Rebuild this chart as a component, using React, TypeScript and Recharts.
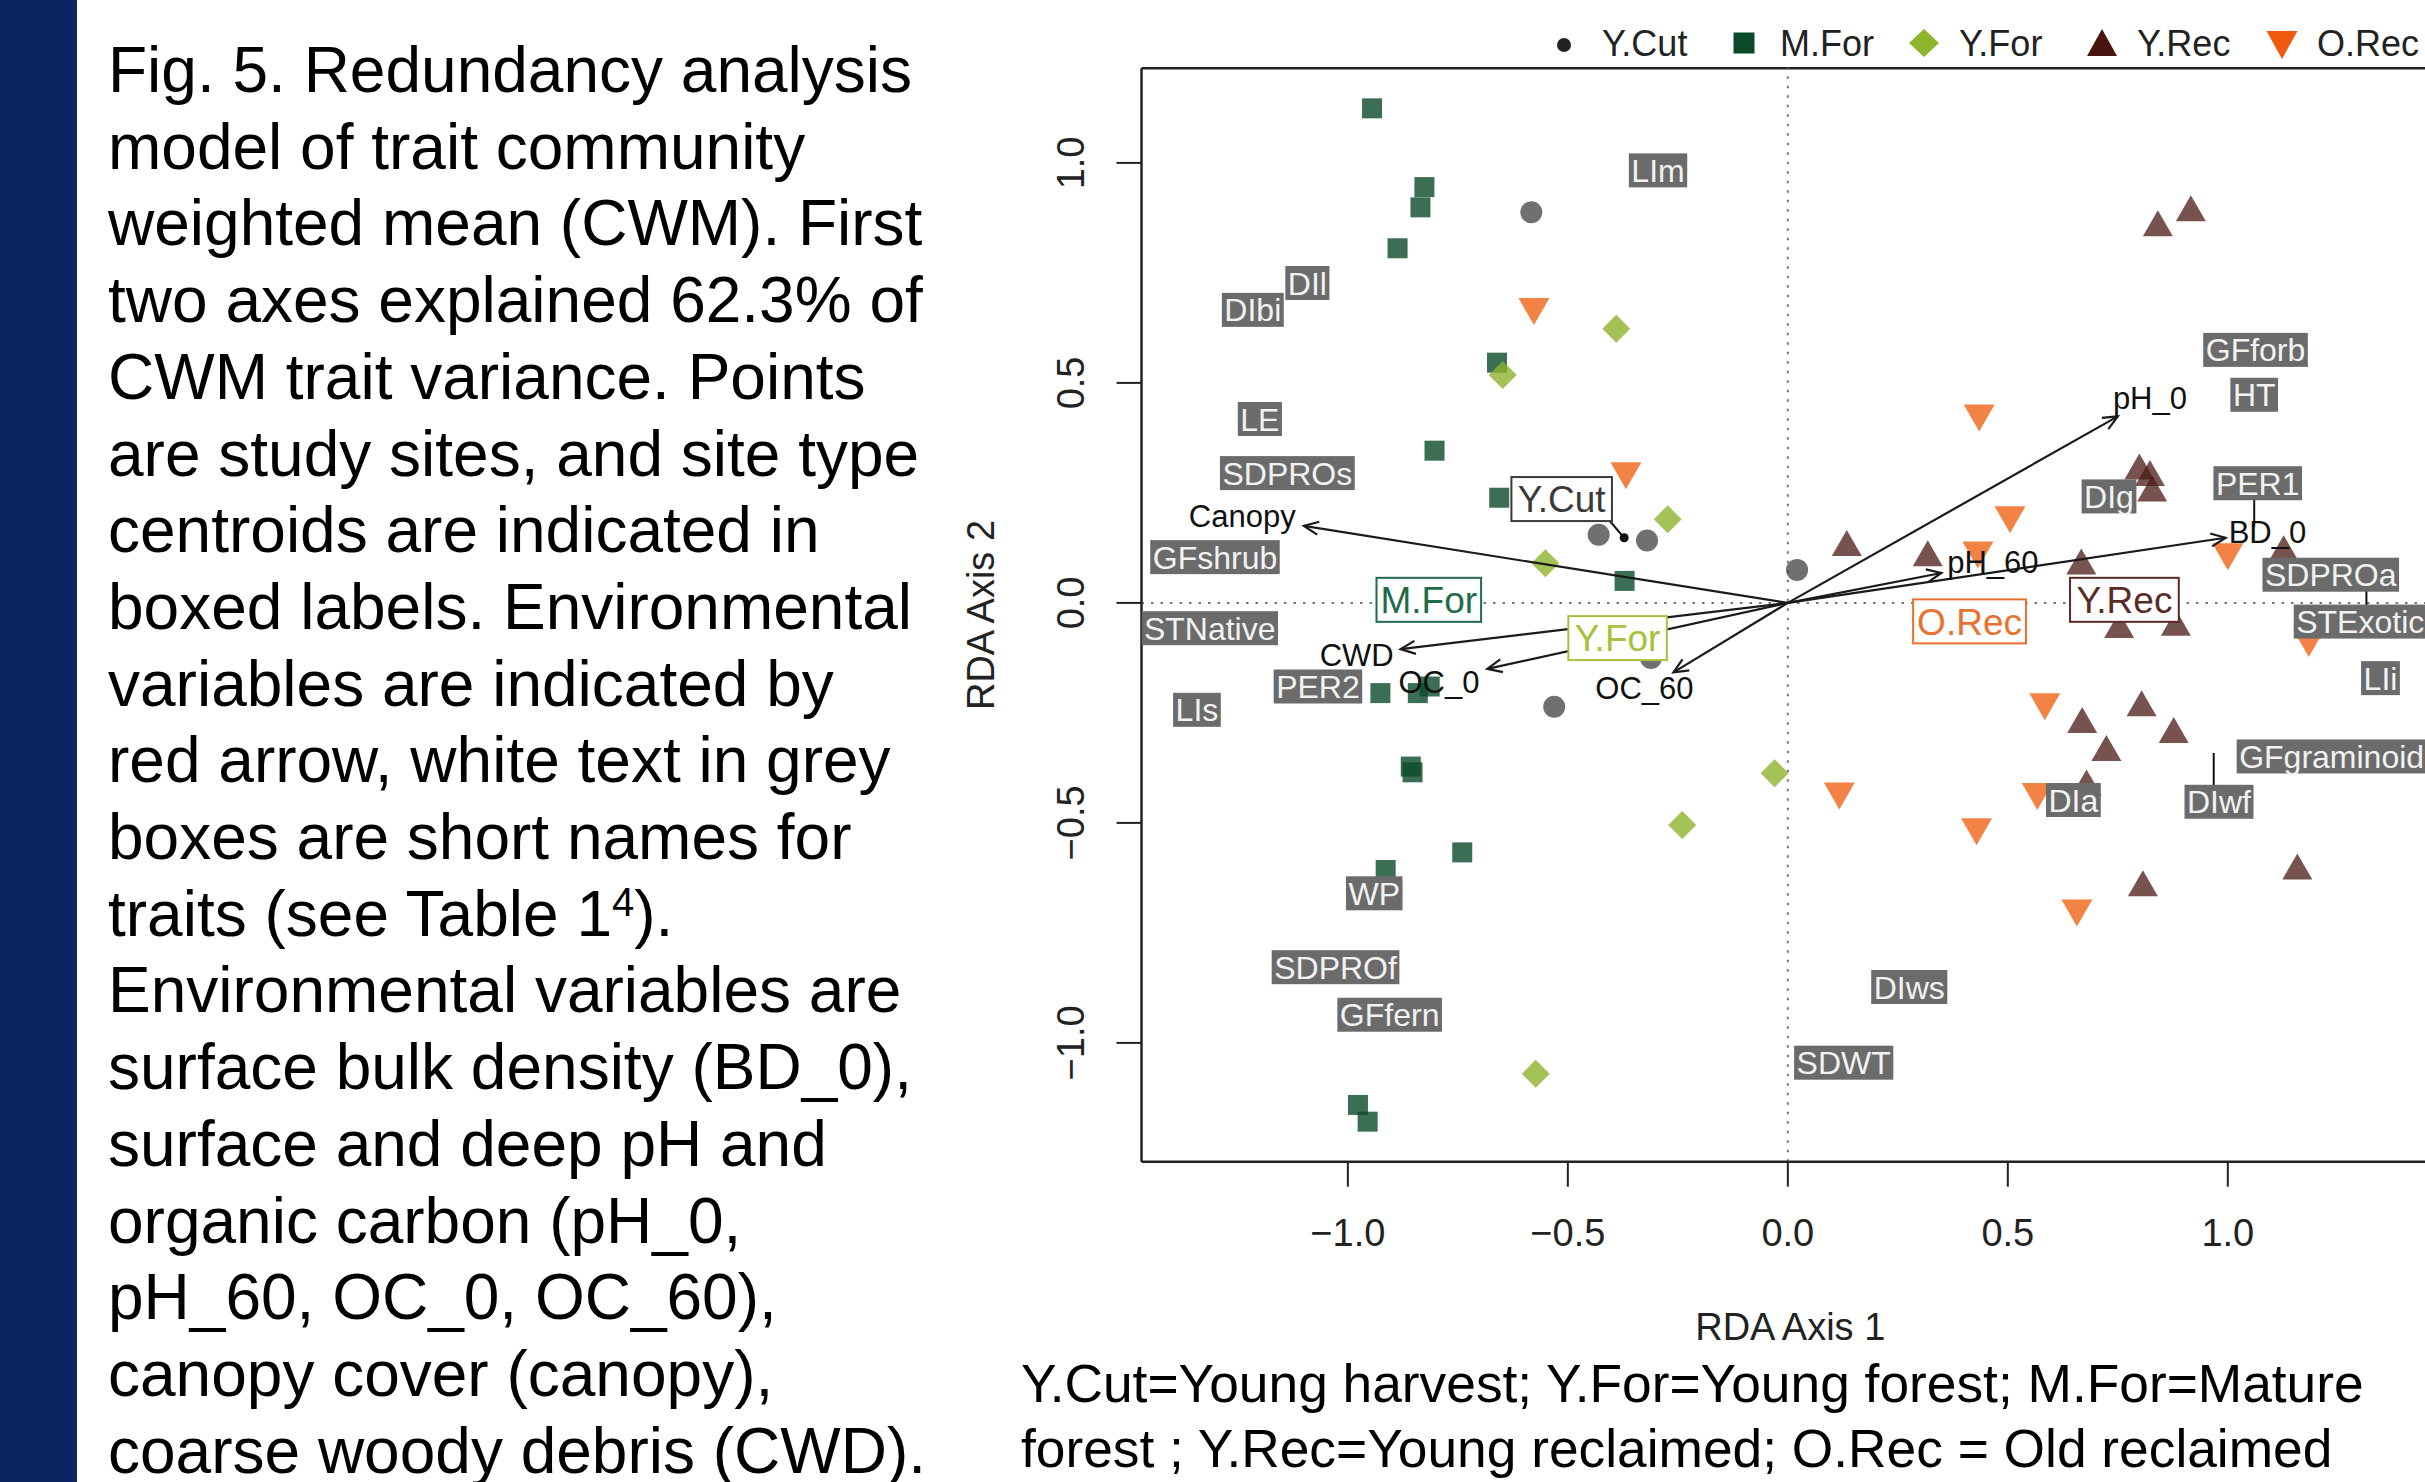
import React from 'react';
import { ScatterChart, Scatter, XAxis, YAxis, ReferenceLine, Legend } from 'recharts';

const FONT = '"Liberation Sans", Arial, Helvetica, sans-serif';

// ---------- caption text ----------
const captionLines = [
  'Fig. 5. Redundancy analysis',
  'model of trait community',
  'weighted mean (CWM). First',
  'two axes explained 62.3% of',
  'CWM trait variance. Points',
  'are study sites, and site type',
  'centroids are indicated in',
  'boxed labels. Environmental',
  'variables are indicated by',
  'red arrow, white text in grey',
  'boxes are short names for',
  'traits (see Table 1^4).',
  'Environmental variables are',
  'surface bulk density (BD_0),',
  'surface and deep pH and',
  'organic carbon (pH_0,',
  'pH_60, OC_0, OC_60),',
  'canopy cover (canopy),',
  'coarse woody debris (CWD).',
];
const footnoteLines = [
  'Y.Cut=Young harvest; Y.For=Young forest; M.For=Mature',
  'forest ; Y.Rec=Young reclaimed; O.Rec = Old reclaimed',
];

// ---------- axes ----------
const xDomain = [-1.469, 1.48];
const yDomain = [-1.27, 1.215];
const axisTicks = [-1, -0.5, 0, 0.5, 1];
const xTitle = 'RDA Axis 1';
const yTitle = 'RDA Axis 2';

// ---------- site scores ----------
const yCutSites = [
  { x: -0.583, y: 0.888 }, { x: -0.43, y: 0.155 }, { x: -0.32, y: 0.142 },
  { x: -0.531, y: -0.236 }, { x: -0.311, y: -0.125 }, { x: 0.021, y: 0.075 },
];
const mForSites = [
  { x: -0.945, y: 1.124 }, { x: -0.826, y: 0.945 }, { x: -0.835, y: 0.899 },
  { x: -0.887, y: 0.806 }, { x: -0.661, y: 0.546 }, { x: -0.803, y: 0.346 },
  { x: -0.656, y: 0.239 }, { x: -0.371, y: 0.05 }, { x: -0.926, y: -0.205 },
  { x: -0.841, y: -0.205 }, { x: -0.814, y: -0.19 }, { x: -0.857, y: -0.372 },
  { x: -0.853, y: -0.385 }, { x: -0.74, y: -0.567 }, { x: -0.914, y: -0.607 },
  { x: -0.977, y: -1.141 }, { x: -0.955, y: -1.179 },
];
const yForSites = [
  { x: -0.39, y: 0.623 }, { x: -0.648, y: 0.518 }, { x: -0.273, y: 0.19 },
  { x: -0.551, y: 0.09 }, { x: -0.03, y: -0.387 }, { x: -0.24, y: -0.505 },
  { x: -0.573, y: -1.07 },
];
const yRecSites = [
  { x: 0.841, y: 0.863 }, { x: 0.916, y: 0.897 }, { x: 0.799, y: 0.31 },
  { x: 0.823, y: 0.295 }, { x: 0.828, y: 0.26 }, { x: 0.134, y: 0.136 },
  { x: 0.318, y: 0.113 }, { x: 0.667, y: 0.094 }, { x: 1.127, y: 0.124 },
  { x: 0.753, y: -0.05 }, { x: 0.882, y: -0.045 }, { x: 0.804, y: -0.228 },
  { x: 0.669, y: -0.266 }, { x: 0.877, y: -0.289 }, { x: 0.724, y: -0.33 },
  { x: 0.679, y: -0.408 }, { x: 1.158, y: -0.599 }, { x: 0.807, y: -0.637 },
];
const oRecSites = [
  { x: -0.577, y: 0.662 }, { x: -0.368, y: 0.289 }, { x: 0.435, y: 0.42 },
  { x: 0.505, y: 0.189 }, { x: 0.432, y: 0.109 }, { x: 1.0, y: 0.105 },
  { x: 1.184, y: -0.092 }, { x: 0.584, y: -0.236 }, { x: 0.117, y: -0.439 },
  { x: 0.567, y: -0.44 }, { x: 0.429, y: -0.52 }, { x: 0.657, y: -0.705 },
];

// ---------- environmental vectors (tip and label position) ----------
const envVectors = [
  { name: 'Canopy', x: -1.1, y: 0.175, lx: -1.24, ly: 0.198 },
  { name: 'CWD', x: -0.88, y: -0.105, lx: -0.98, ly: -0.118 },
  { name: 'OC_0', x: -0.683, y: -0.15, lx: -0.793, ly: -0.18 },
  { name: 'OC_60', x: -0.26, y: -0.158, lx: -0.326, ly: -0.193 },
  { name: 'pH_0', x: 0.75, y: 0.424, lx: 0.823, ly: 0.466 },
  { name: 'pH_60', x: 0.349, y: 0.068, lx: 0.466, ly: 0.094 },
  { name: 'BD_0', x: 0.995, y: 0.148, lx: 1.09, ly: 0.162 },
];

// ---------- trait labels ----------
const traitLabels = [
  { name: 'LIm', x: -0.295, y: 0.983 },
  { name: 'DIl', x: -1.092, y: 0.727 },
  { name: 'DIbi', x: -1.216, y: 0.666 },
  { name: 'LE', x: -1.2, y: 0.418 },
  { name: 'SDPROs', x: -1.1375, y: 0.295 },
  { name: 'GFshrub', x: -1.302, y: 0.104 },
  { name: 'STNative', x: -1.314, y: -0.0575 },
  { name: 'PER2', x: -1.068, y: -0.19 },
  { name: 'LIs', x: -1.343, y: -0.243 },
  { name: 'WP', x: -0.94, y: -0.66 },
  { name: 'SDPROf', x: -1.028, y: -0.828 },
  { name: 'GFfern', x: -0.905, y: -0.936 },
  { name: 'DIws', x: 0.276, y: -0.873 },
  { name: 'SDWT', x: 0.127, y: -1.045 },
  { name: 'GFforb', x: 1.063, y: 0.575 },
  { name: 'HT', x: 1.06, y: 0.473 },
  { name: 'DIg', x: 0.73, y: 0.242 },
  { name: 'PER1', x: 1.068, y: 0.272 },
  { name: 'SDPROa', x: 1.234, y: 0.064 },
  { name: 'STExotic', x: 1.301, y: -0.0425 },
  { name: 'LIi', x: 1.347, y: -0.171 },
  { name: 'GFgraminoid', x: 1.236, y: -0.349 },
  { name: 'DIa', x: 0.649, y: -0.448 },
  { name: 'DIwf', x: 0.98, y: -0.452 },
];
const leaderLines = [
  { x1: -0.407, y1: 0.189, x2: -0.372, y2: 0.148 },
  { x1: 1.06, y1: 0.234, x2: 1.06, y2: 0.173 },
  { x1: 1.315, y1: 0.045, x2: 1.315, y2: -0.016 },
  { x1: 0.968, y1: -0.341, x2: 0.968, y2: -0.414 },
];
const yCutCentroid = [{ x: -0.372, y: 0.148 }];

// ---------- site-type centroid labels ----------
const centroidLabels = [
  { name: 'Y.Cut', x: -0.514, y: 0.236, group: 'ycut' },
  { name: 'M.For', x: -0.816, y: 0.007, group: 'mfor' },
  { name: 'Y.For', x: -0.387, y: -0.08, group: 'yfor' },
  { name: 'O.Rec', x: 0.413, y: -0.042, group: 'orec' },
  { name: 'Y.Rec', x: 0.765, y: 0.007, group: 'yrec' },
];
const legendNames = ['Y.Cut', 'M.For', 'Y.For', 'Y.Rec', 'O.Rec'];

// ---------- styles ----------
const LABEL_COLORS: Record<string, string> = {
  ycut: '#3a3a3a', mfor: '#1f6b4a', yfor: '#a5c23a', orec: '#e8722e', yrec: '#5a2a25',
};
const CW: Record<string, number> = {
  A: 0.667, B: 0.667, C: 0.722, D: 0.722, E: 0.667, F: 0.611, G: 0.778, H: 0.722, I: 0.278,
  L: 0.556, M: 0.833, N: 0.722, O: 0.778, P: 0.667, R: 0.722, S: 0.667, T: 0.611, W: 0.944,
  Y: 0.667, a: 0.556, b: 0.556, c: 0.5, d: 0.556, e: 0.556, f: 0.278, g: 0.556, h: 0.556,
  i: 0.222, l: 0.222, m: 0.833, n: 0.556, o: 0.556, p: 0.556, r: 0.333, s: 0.5, t: 0.278,
  u: 0.556, v: 0.5, w: 0.722, x: 0.5, y: 0.5, '.': 0.278, _: 0.556, ' ': 0.278,
};
const textW = (s: string, fs: number) =>
  s.split('').reduce((a, c) => a + (CW[c] ?? 0.556), 0) * fs;

const fmt = (v: number) => (v < 0 ? '\u2212' : '') + Math.abs(v).toFixed(1);

// ---------- shapes ----------
const Empty = () => <g />;
const CircleShape = (p: any) => (
  <circle cx={p.cx} cy={p.cy} r={11} fill="#333333" fillOpacity={0.7} />
);
const SquareShape = (p: any) => (
  <rect x={p.cx - 10} y={p.cy - 10} width={20} height={20} fill="#0b4a2a" fillOpacity={0.8} />
);
const DiamondShape = (p: any) => (
  <polygon
    points={`${p.cx},${p.cy - 14} ${p.cx + 14},${p.cy} ${p.cx},${p.cy + 14} ${p.cx - 14},${p.cy}`}
    fill="#8db32b"
    fillOpacity={0.8}
  />
);
const UpTriShape = (p: any) => (
  <polygon
    points={`${p.cx},${p.cy - 13} ${p.cx + 15},${p.cy + 13} ${p.cx - 15},${p.cy + 13}`}
    fill="#4a1a14"
    fillOpacity={0.75}
  />
);
const DownTriShape = (p: any) => (
  <polygon
    points={`${p.cx - 15.5},${p.cy - 13.5} ${p.cx + 15.5},${p.cy - 13.5} ${p.cx},${p.cy + 13.5}`}
    fill="#f06010"
    fillOpacity={0.78}
  />
);
const DotShape = (p: any) => <circle cx={p.cx} cy={p.cy} r={4.5} fill="#111" />;

const ArrowHead = (p: any) => {
  const { cx, cy, payload } = p;
  if (!payload || !payload.tip) return <g />;
  // equal px-per-unit on both axes, so pixel direction follows the data direction
  const ang = Math.atan2(-payload.y, payload.x);
  const L = 16;
  const a = 0.42;
  const x1 = cx - L * Math.cos(ang - a);
  const y1 = cy - L * Math.sin(ang - a);
  const x2 = cx - L * Math.cos(ang + a);
  const y2 = cy - L * Math.sin(ang + a);
  return (
    <polyline
      points={`${x1},${y1} ${cx},${cy} ${x2},${y2}`}
      fill="none"
      stroke="#1a1a1a"
      strokeWidth={2.2}
    />
  );
};

const EnvLabelShape = (p: any) => (
  <text
    x={p.cx}
    y={p.cy}
    dy="0.36em"
    textAnchor="middle"
    fontSize={31}
    fill="#111"
    fontFamily={FONT}
  >
    {p.payload.name}
  </text>
);

const TraitShape = (p: any) => {
  const { cx, cy, payload } = p;
  const fs = 32;
  const w = textW(payload.name, fs) + 5;
  const h = 34;
  return (
    <g>
      <rect x={cx - w / 2} y={cy - h / 2} width={w} height={h} fill="#6b6b6b" />
      <text x={cx} y={cy} dy="0.36em" textAnchor="middle" fontSize={fs} fill="#f2f2f2" fontFamily={FONT}>
        {payload.name}
      </text>
    </g>
  );
};

const CentroidShape = (p: any) => {
  const { cx, cy, payload } = p;
  const fs = 37;
  const col = LABEL_COLORS[payload.group];
  const w = textW(payload.name, fs) + 8;
  const h = 44;
  return (
    <g>
      <rect x={cx - w / 2} y={cy - h / 2} width={w} height={h} fill="#ffffff" stroke={col} strokeWidth={2} />
      <text x={cx} y={cy} dy="0.36em" textAnchor="middle" fontSize={fs} fill={col} fontFamily={FONT}>
        {payload.name}
      </text>
    </g>
  );
};

const YTick = (p: any) => {
  const { x, y, payload } = p;
  return (
    <text
      x={x}
      y={y}
      transform={`rotate(-90, ${x}, ${y})`}
      dy="0.36em"
      textAnchor="middle"
      fontSize={38}
      fill="#222"
      fontFamily={FONT}
    >
      {fmt(payload.value)}
    </text>
  );
};

const XTitle = (p: any) => {
  const vb = p.viewBox || {};
  return (
    <text x={vb.x + vb.width / 2} y={vb.y + 178} textAnchor="middle" fontSize={38} fill="#222" fontFamily={FONT}>
      {xTitle}
    </text>
  );
};
const YTitle = (p: any) => {
  const vb = p.viewBox || {};
  const x = vb.x + 1;
  const y = vb.y + vb.height / 2;
  return (
    <text x={x} y={y} transform={`rotate(-90, ${x}, ${y})`} dy="0.36em" textAnchor="middle" fontSize={38} fill="#222" fontFamily={FONT}>
      {yTitle}
    </text>
  );
};

const LegendContent = () => {
  const markerX = [24, 204, 384, 562, 742];
  const textX = [62, 240, 419, 597, 777];
  const cy = 30;
  const markers = [
    <circle key="m0" cx={markerX[0]} cy={cy + 2} r={7} fill="#222" />,
    <rect key="m1" x={markerX[1] - 10.5} y={cy - 10.5} width={21} height={21} fill="#0a4a2a" />,
    <polygon key="m2" points={`${markerX[2]},${cy - 14} ${markerX[2] + 15},${cy} ${markerX[2]},${cy + 14} ${markerX[2] - 15},${cy}`} fill="#8fb52f" />,
    <polygon key="m3" points={`${markerX[3]},${cy - 14} ${markerX[3] + 15},${cy + 13} ${markerX[3] - 15},${cy + 13}`} fill="#4a1510" />,
    <polygon key="m4" points={`${markerX[4] - 15.5},${cy - 12} ${markerX[4] + 15.5},${cy - 12} ${markerX[4]},${cy + 16}`} fill="#f05a0f" />,
  ];
  return (
    <svg width={900} height={60} style={{ display: 'block', overflow: 'visible' }}>
      {markers}
      {legendNames.map((n, i) => (
        <text key={n} x={textX[i]} y={cy + 13} fontSize={36} fill="#222" fontFamily={FONT}>
          {n}
        </text>
      ))}
    </svg>
  );
};

const CaptionLine = ({ text }: { text: string }) => {
  if (text.includes('^')) {
    const [a, b] = text.split('^');
    return (
      <div>
        {a}
        <sup style={{ fontSize: 40, verticalAlign: 'top', lineHeight: '52px' }}>{b[0]}</sup>
        {b.slice(1)}
      </div>
    );
  }
  return <div>{text}</div>;
};

export default function App() {
  const W = 1560;
  const H = 1482;
  return (
    <div
      style={{
        position: 'fixed',
        left: 0,
        top: 0,
        width: 2425,
        height: 1482,
        overflow: 'hidden',
        background: '#ffffff',
        fontFamily: FONT,
      }}
    >
      <div style={{ position: 'absolute', left: 0, top: 0, width: 77, height: 1482, background: '#0b2462' }} />
      <div
        style={{
          position: 'absolute',
          left: 108,
          top: 32,
          fontSize: 64,
          lineHeight: '76.7px',
          color: '#000',
          whiteSpace: 'nowrap',
        }}
      >
        {captionLines.map((t, i) => (
          <CaptionLine key={i} text={t} />
        ))}
      </div>
      <div
        style={{
          position: 'absolute',
          left: 1021,
          top: 1351,
          fontSize: 53.3,
          lineHeight: '65px',
          color: '#000',
          whiteSpace: 'nowrap',
        }}
      >
        {footnoteLines.map((t, i) => (
          <div key={i}>{t}</div>
        ))}
      </div>
      <div style={{ position: 'absolute', left: 900, top: 0 }}>
        <ScatterChart
          width={W}
          height={H}
          margin={{ top: 68.3, right: 21, bottom: 120.3, left: 79.5 }}
        >
          <XAxis
            type="number"
            dataKey="x"
            domain={xDomain}
            ticks={axisTicks}
            allowDataOverflow
            height={200}
            tickSize={25}
            tickMargin={32}
            tickFormatter={fmt}
            tick={{ fontSize: 38, fill: '#222', fontFamily: FONT }}
            tickLine={{ stroke: '#222', strokeWidth: 2 }}
            axisLine={{ stroke: '#222', strokeWidth: 2.5 }}
            label={{ value: xTitle, content: XTitle }}
          />
          <YAxis
            type="number"
            dataKey="y"
            domain={yDomain}
            ticks={axisTicks}
            allowDataOverflow
            width={162}
            tickSize={25}
            tickMargin={46.5}
            tick={<YTick />}
            tickLine={{ stroke: '#222', strokeWidth: 2 }}
            axisLine={{ stroke: '#222', strokeWidth: 2.5 }}
            label={{ value: yTitle, content: YTitle }}
          />
          <ReferenceLine y={yDomain[1]} stroke="#222" strokeWidth={2.5} ifOverflow="visible" />
          <ReferenceLine x={0} stroke="#777" strokeWidth={2} strokeDasharray="2.5 7" />
          <ReferenceLine y={0} stroke="#777" strokeWidth={2} strokeDasharray="2.5 7" />
          <Legend
            layout="horizontal"
            verticalAlign="middle"
            align="center"
            content={<LegendContent />}
            wrapperStyle={{ position: 'absolute', left: 640, top: 13, width: 900, height: 60 }}
          />

          <Scatter name="Y.Cut" data={yCutSites} shape={CircleShape} isAnimationActive={false} />
          <Scatter name="M.For" data={mForSites} shape={SquareShape} isAnimationActive={false} />
          <Scatter name="Y.For" data={yForSites} shape={DiamondShape} isAnimationActive={false} />
          <Scatter name="Y.Rec" data={yRecSites} shape={UpTriShape} isAnimationActive={false} />
          <Scatter name="O.Rec" data={oRecSites} shape={DownTriShape} isAnimationActive={false} />

          {envVectors.map((v) => (
            <Scatter
              key={`arrow-${v.name}`}
              data={[
                { x: 0, y: 0, tip: false },
                { x: v.x, y: v.y, tip: true },
              ]}
              line={{ stroke: '#1a1a1a', strokeWidth: 2.2 }}
              shape={ArrowHead}
              legendType="none"
              isAnimationActive={false}
            />
          ))}
          <Scatter
            data={envVectors.map((v) => ({ x: v.lx, y: v.ly, name: v.name }))}
            shape={EnvLabelShape}
            legendType="none"
            isAnimationActive={false}
          />

          {leaderLines.map((l, i) => (
            <Scatter
              key={`leader-${i}`}
              data={[
                { x: l.x1, y: l.y1 },
                { x: l.x2, y: l.y2 },
              ]}
              line={{ stroke: '#111', strokeWidth: 2 }}
              shape={Empty}
              legendType="none"
              isAnimationActive={false}
            />
          ))}
          <Scatter data={traitLabels} shape={TraitShape} legendType="none" isAnimationActive={false} />
          <Scatter data={yCutCentroid} shape={DotShape} legendType="none" isAnimationActive={false} />
          <Scatter data={centroidLabels} shape={CentroidShape} legendType="none" isAnimationActive={false} />
        </ScatterChart>
      </div>
    </div>
  );
}
